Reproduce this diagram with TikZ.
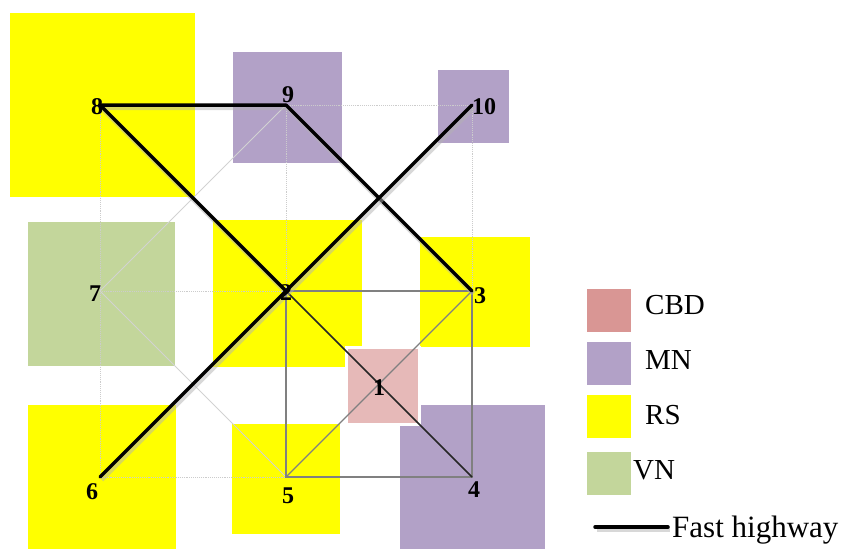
\documentclass[tikz,border=0pt]{standalone}
\usepackage{fontspec}
\setmainfont{Liberation Serif}
\definecolor{cbd}{HTML}{D99694}
\definecolor{cbdlight}{HTML}{E6B9B8}
\definecolor{mn}{HTML}{B2A1C7}
\definecolor{rs}{HTML}{FFFF00}
\definecolor{vn}{HTML}{C3D69B}
\tikzset{
  lbl/.style={font=\bfseries\fontsize{24}{24}\selectfont, inner sep=0pt},
  keytxt/.style={font=\fontsize{29}{29}\selectfont, inner sep=0pt},
  key/.style={minimum width=44pt, minimum height=43pt, inner sep=0pt},
  gridline/.style={gray!40, densely dotted, line width=0.9pt},
  faint/.style={gray!35, line width=0.9pt},
  link/.style={gray, line width=1.3pt},
  street/.style={black!85, line width=1.5pt},
  highway/.style={line width=3.5pt, line cap=round, line join=round,
    preaction={draw=black!30, line width=5pt, opacity=0.5, transform canvas={shift={(1.5pt,-2.5pt)}}}}
}
\begin{document}
\begin{tikzpicture}[x=1pt,y=-1pt]
\useasboundingbox (0,0) rectangle (846,549);
\coordinate (p1) at (379,384); \coordinate (p2) at (286,291); \coordinate (p3) at (472,291);
\coordinate (p4) at (472,477); \coordinate (p5) at (286,477); \coordinate (p6) at (100,477);
\coordinate (p7) at (100,291); \coordinate (p8) at (100,105); \coordinate (p9) at (286,105);
\coordinate (p10) at (472,105);
% zones
\fill[rs] (10,13) rectangle (195,197);
\fill[mn] (233,52) rectangle (342,163);
\fill[mn] (438,70) rectangle (509,143);
\fill[vn] (28,222) rectangle (175,366);
\fill[rs] (213,220) rectangle (362,367);
\fill[rs] (420,237) rectangle (530,347);
\fill[rs] (28,405) rectangle (176,549);
\fill[rs] (232,424) rectangle (340,534);
\fill[mn] (400,405) rectangle (545,549);
\filldraw[fill=cbdlight, draw=white, line width=3pt] (346,347) rectangle (419,424);
% roads
\draw[gridline] (p8) -- (p6) (p9) -- (p5) (p10) -- (p4) (p8) -- (p10) (p7) -- (p3) (p6) -- (p4);
\draw[faint] (p9) -- (p7) -- (p5);
\draw[link] (p2) -- (p3) -- (p4) -- (p5) -- cycle;
\draw[link] (p5) -- (p3);
\draw[street] (p2) -- (p4);
\draw[highway] (p9) -- (p8) -- (p2);
\draw[highway] (p9) -- (p3);
\draw[highway] (p6) -- (p10);
% labels
\node[lbl] (n1) at (379,388) {1};
\node[lbl] (n2) at (286,293) {2};
\node[lbl] (n3) at (480,296) {3};
\node[lbl] (n4) at (474,490) {4};
\node[lbl] (n5) at (288,496) {5};
\node[lbl] (n6) at (92,492) {6};
\node[lbl] (n7) at (95,294) {7};
\node[lbl] (n8) at (97,107) {8};
\node[lbl] (n9) at (288,95) {9};
\node[lbl] (n10) at (484,107) {10};
% legend
\node[key, fill=cbd] (k1) at (609,310.5) {};
\node[key, fill=mn] (k2) at (609,363) {};
\node[key, fill=rs] (k3) at (609,416.5) {};
\node[key, fill=vn] (k4) at (609,473.5) {};
\node[keytxt, anchor=west] (t1) at (645,305) {CBD};
\node[keytxt, anchor=west] (t2) at (645,360) {MN};
\node[keytxt, anchor=west] (t3) at (645,415) {RS};
\node[keytxt, anchor=west] (t4) at (633,470) {VN};
\coordinate (h1) at (595,527); \coordinate (h2) at (668,527);
\draw[highway] (h1) -- (h2);
\node[keytxt, anchor=base west, font=\fontsize{31}{31}\selectfont] (t5) at (672,537) {Fast highway};
\end{tikzpicture}
\end{document}
